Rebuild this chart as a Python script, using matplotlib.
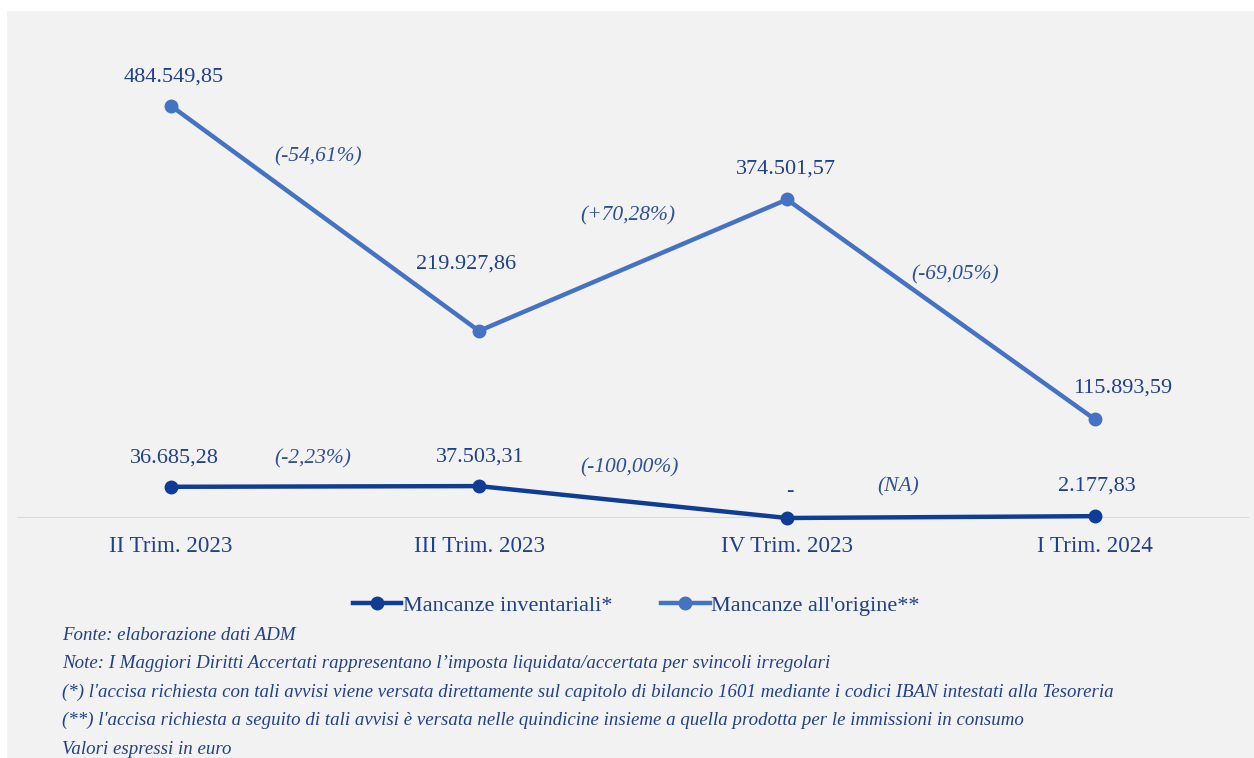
import matplotlib
matplotlib.use("Agg")
import matplotlib.pyplot as plt
from matplotlib.patches import Rectangle
from matplotlib.lines import Line2D

categories = ["II Trim. 2023", "III Trim. 2023", "IV Trim. 2023", "I Trim. 2024"]
inventariali = [36685.28, 37503.31, 0.0, 2177.83]
origine = [484549.85, 219927.86, 374501.57, 115893.59]
inventariali_labels = ["36.685,28", "37.503,31", "-", "2.177,83"]
origine_labels = ["484.549,85", "219.927,86", "374.501,57", "115.893,59"]
origine_pct = ["(-54,61%)", "(+70,28%)", "(-69,05%)"]
inventariali_pct = ["(-2,23%)", "(-100,00%)", "(NA)"]
series_names = ["Mancanze inventariali*", "Mancanze all'origine**"]
footer_lines = [
    "Fonte: elaborazione dati ADM",
    "Note: I Maggiori Diritti Accertati rappresentano l\u2019imposta liquidata/accertata per svincoli irregolari",
    "(*) l'accisa richiesta con tali avvisi viene versata direttamente sul capitolo di bilancio 1601 mediante i codici IBAN intestati alla Tesoreria",
    "(**) l'accisa richiesta a seguito di tali avvisi è versata nelle quindicine insieme a quella prodotta per le immissioni in consumo",
    "Valori espressi in euro",
]

W, H = 1254, 758
DARK = "#0f3d96"
LIGHT = "#4472c4"
TXT = "#1f3f8f"
PCT = "#2e4f9a"
BG = "#f2f2f2"
plt.rcParams["font.family"] = ["Liberation Serif", "DejaVu Serif"]

fig = plt.figure(figsize=(W / 100, H / 100), dpi=100, facecolor="white")
fig.patches.append(Rectangle((7 / W, 0), 1 - 7 / W, 1 - 11 / H, transform=fig.transFigure,
                             facecolor=BG, edgecolor="none", zorder=-10))

ax = fig.add_axes([17 / W, 1 - 518 / H, 1232 / W, (518 - 40) / H])
ax.set_facecolor("none")
ax.set_xlim(-0.5, 3.5)
ax.set_ylim(0, 562000)
x = list(range(len(categories)))

ax.axhline(0, color="#d9d9d9", lw=1.5, zorder=1)
ax.plot(x, inventariali, color=DARK, lw=3.2, marker="o", ms=9, zorder=3, clip_on=False,
        solid_capstyle="round")
ax.plot(x, origine, color=LIGHT, lw=3.2, marker="o", ms=9, zorder=3, clip_on=False,
        solid_capstyle="round")

for s in ax.spines.values():
    s.set_visible(False)
ax.set_yticks([])
ax.set_xticks(x)
ax.set_xticklabels(categories, fontsize=16.6, color=TXT)
ax.tick_params(axis="x", length=0, pad=13)

# value labels (pixel offsets)
orig_off = [(3, 29), (-13, 67), (-1, 30), (28, 31)]
inv_off = [(3, 29), (1, 29), (3, 27), (2, 30)]
for i in x:
    ax.annotate(origine_labels[i], (i, origine[i]), xytext=orig_off[i], textcoords="offset pixels",
                ha="center", va="center", fontsize=16, color=TXT)
    ax.annotate(inventariali_labels[i], (i, inventariali[i]), xytext=inv_off[i], textcoords="offset pixels",
                ha="center", va="center", fontsize=16, color=TXT)

orig_pct_pos = [(0.477, 424600), (1.484, 355200), (2.545, 285800)]
inv_pct_pos = [(0.461, 69400), (1.487, 58800), (2.36, 36500)]
for lab, (px, py) in zip(origine_pct, orig_pct_pos):
    ax.text(px, py, lab, ha="center", va="center", fontsize=15.5, style="italic", color=PCT)
for lab, (px, py) in zip(inventariali_pct, inv_pct_pos):
    ax.text(px, py, lab, ha="center", va="center", fontsize=15.5, style="italic", color=PCT)

handles = [Line2D([0], [0], color=DARK, lw=3.2, marker="o", ms=9),
           Line2D([0], [0], color=LIGHT, lw=3.2, marker="o", ms=9)]
fig.legend(handles, series_names, loc="center", bbox_to_anchor=(636 / W, 1 - 606 / H),
           ncol=2, frameon=False, fontsize=16, labelcolor=TXT, handlelength=2.2,
           handletextpad=0.05, columnspacing=2.2)

for k, line in enumerate(footer_lines):
    fig.text(62 / W, 1 - (635 + 28.6 * k) / H, line, ha="left", va="center", fontsize=13.6,
             style="italic", color=TXT)

fig.savefig("out.png", dpi=100, facecolor="white")
